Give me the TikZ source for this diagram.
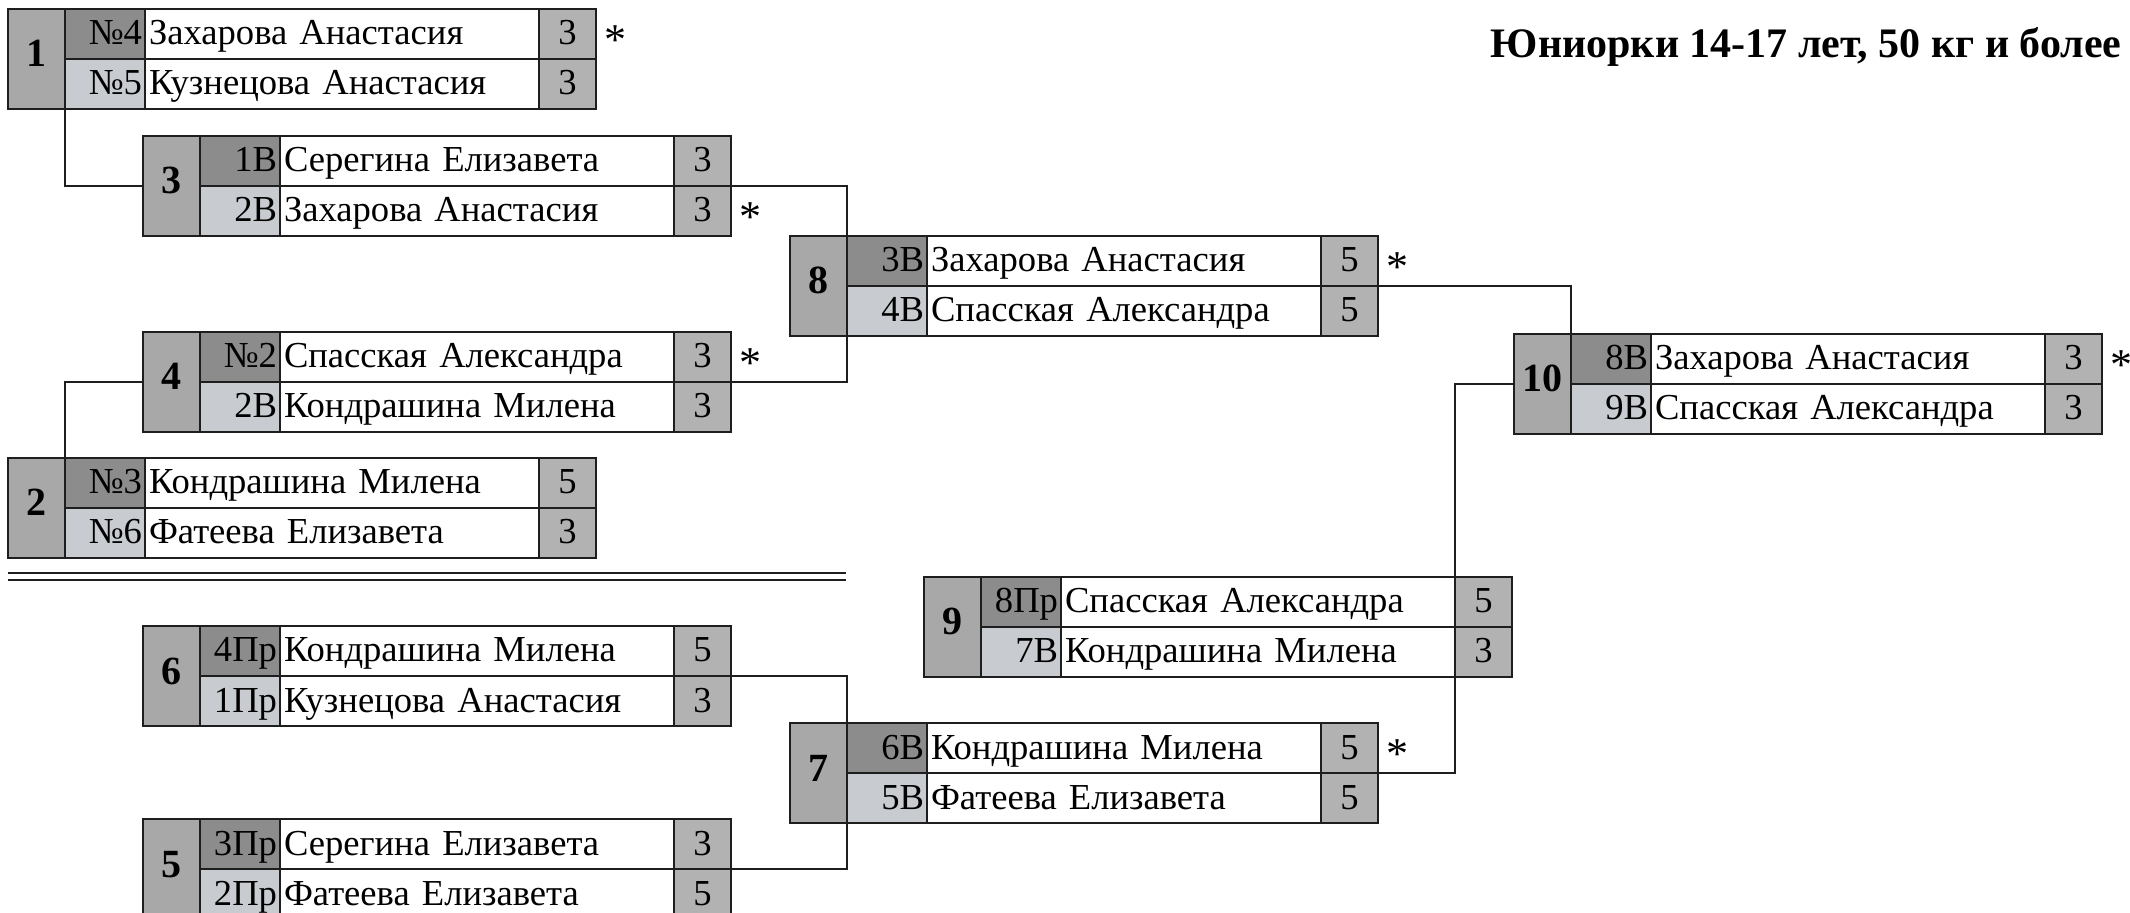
\documentclass[tikz,border=0pt]{standalone}
\usepackage{fontspec}
\setmainfont{Liberation Serif}
\usetikzlibrary{positioning}

\definecolor{numgray}{RGB}{168,168,168}
\definecolor{seedtop}{RGB}{140,140,140}
\definecolor{seedbot}{RGB}{200,204,208}
\definecolor{scoregray}{RGB}{178,178,178}
\definecolor{inkline}{RGB}{30,30,30}

\tikzset{
  cellbase/.style={draw=inkline, line width=1.3pt, inner ysep=0pt, outer sep=0pt,
    anchor=north west, minimum height=25pt, text height=1.1em, text depth=0em},
  numcell/.style={cellbase, fill=numgray, minimum width=28.5pt, minimum height=50pt,
    inner xsep=0pt, text height=0.9em, text depth=0.1em, font=\fontsize{20}{22}\selectfont},
  seedcell/.style={cellbase, text width=37pt, align=right, inner xsep=1.5pt},
  namecell/.style={cellbase, fill=white, text width=193pt, align=left, inner xsep=2pt},
  scorecell/.style={cellbase, fill=scoregray, text width=28.5pt, align=center, inner xsep=0pt},
  link/.style={draw=inkline, line width=1.1pt},
  ast/.style={inner sep=0pt, node distance=4pt, yshift=-3pt, font=\fontsize{22}{24}\selectfont},
}

% one match: #1 = coordinate name, then number, two rows of seed/name/score
\newcommand{\match}[8]{%
  \node[numcell] (#1-num) at (#1) {\textbf{#2}};
  \node[seedcell, fill=seedtop] (#1-s1) at (#1-num.north east) {#3};
  \node[namecell] (#1-n1) at (#1-s1.north east) {#4};
  \node[scorecell] (#1-p1) at (#1-n1.north east) {#5};
  \node[seedcell, fill=seedbot] (#1-s2) at (#1-s1.south west) {#6};
  \node[namecell] (#1-n2) at (#1-s2.north east) {#7};
  \node[scorecell] (#1-p2) at (#1-n2.north east) {#8};
}

\begin{document}
\begin{tikzpicture}[x=0.5pt, y=-0.5pt, font=\fontsize{18.3}{21}\selectfont]
  \useasboundingbox (0,0) rectangle (2130,913);
  \clip (0,0) rectangle (2130,913);
  \fill[white] (0,0) rectangle (2130,913);

  \coordinate (m1) at (8,9);     \coordinate (m3) at (143,136);
  \coordinate (m4) at (143,332); \coordinate (m2) at (8,458);
  \coordinate (m8) at (790,236); \coordinate (m10) at (1514,334);
  \coordinate (m9) at (924,577); \coordinate (m6) at (143,626);
  \coordinate (m7) at (790,723); \coordinate (m5) at (143,819);

  \match{m1}{1}{№4}{Захарова Анастасия}{3}{№5}{Кузнецова Анастасия}{3}
  \match{m3}{3}{1В}{Серегина Елизавета}{3}{2В}{Захарова Анастасия}{3}
  \match{m4}{4}{№2}{Спасская Александра}{3}{2В}{Кондрашина Милена}{3}
  \match{m2}{2}{№3}{Кондрашина Милена}{5}{№6}{Фатеева Елизавета}{3}
  \match{m8}{8}{3В}{Захарова Анастасия}{5}{4В}{Спасская Александра}{5}
  \match{m10}{10}{8В}{Захарова Анастасия}{3}{9В}{Спасская Александра}{3}
  \match{m9}{9}{8Пр}{Спасская Александра}{5}{7В}{Кондрашина Милена}{3}
  \match{m6}{6}{4Пр}{Кондрашина Милена}{5}{1Пр}{Кузнецова Анастасия}{3}
  \match{m7}{7}{6В}{Кондрашина Милена}{5}{5В}{Фатеева Елизавета}{5}
  \match{m5}{5}{3Пр}{Серегина Елизавета}{3}{2Пр}{Фатеева Елизавета}{5}

  % winners
  \node[ast, right=of m1-p1] (w1) {*};
  \node[ast, right=of m3-p2] (w3) {*};
  \node[ast, right=of m4-p1] (w4) {*};
  \node[ast, right=of m8-p1] (w8) {*};
  \node[ast, right=of m10-p1] (w10) {*};
  \node[ast, right=of m7-p1] (w7) {*};

  % connectors
  \draw[link] (m1-num.south east) |- (m3-num.west);
  \draw[link] (m2-num.north east) |- (m4-num.west);
  \draw[link] (m3-p1.south east) -| (m8-num.north east);
  \draw[link] (m4-p1.south east) -| (m8-num.south east);
  \draw[link] (m8-p1.south east) -| (m10-num.north east);
  \draw[link] (m10-num.west) -| (m9-n1.north east);
  \draw[link] (m7-p1.south east) -| (m9-n2.south east);
  \draw[link] (m6-p1.south east) -| (m7-num.north east);
  \draw[link] (m5-p1.south east) -| (m7-num.south east);

  % separator
  \coordinate (sepL) at (8,577); \coordinate (sepR) at (846,577);
  \draw[draw=inkline, double, double distance=2.5pt, line width=1pt] (sepL) -- (sepR);

  \node[anchor=east, inner sep=0pt, font=\bfseries\fontsize{21}{24}\selectfont] (title) at (2122,47)
    {Юниорки 14-17 лет, 50 кг и более};
\end{tikzpicture}
\end{document}
